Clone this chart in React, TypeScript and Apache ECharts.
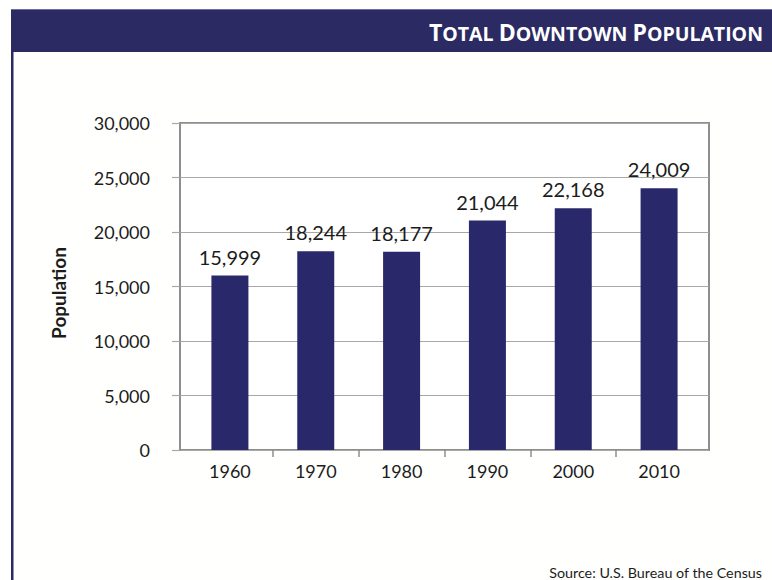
import React, { useEffect, useRef } from "react";
import * as echarts from "echarts";

const years = ["1960", "1970", "1980", "1990", "2000", "2010"];
const population = [15999, 18244, 18177, 21044, 22168, 24009];
const yMin = 0;
const yMax = 30000;
const yStep = 5000;
const boundaryTicks = [1, 2, 3, 4, 5];

const FONT = "Lato";
const NAVY = "#2b2a63";
const BAR = "#28286a";
const TEXT = "#1c1c1c";
const GRID_GRAY = "#a8a8a8";
const FRAME_GRAY = "#8e8e8e";

export default function App() {
  const ref = useRef<HTMLDivElement>(null);
  useEffect(() => {
    if (!ref.current) return;
    const chart = echarts.init(ref.current, null, { renderer: "svg" });
    chart.setOption({
      animation: false,
      backgroundColor: "#fffffd",
      textStyle: { fontFamily: FONT },
      grid: [
        {
          left: 180,
          top: 123,
          width: 529,
          height: 327,
          show: true,
          backgroundColor: "#ffffff",
          borderColor: FRAME_GRAY,
          borderWidth: 2,
        },
        { left: 187, top: 123, width: 515, height: 327 },
      ],
      xAxis: [
        { gridIndex: 0, type: "value", min: 0, max: 1, show: false },
        {
          gridIndex: 1,
          type: "category",
          data: years,
          position: "bottom",
          axisLine: { show: false },
          axisTick: { show: false },
          axisLabel: { fontSize: 18, color: TEXT, margin: 12, fontFamily: FONT },
        },
        {
          gridIndex: 1,
          type: "value",
          min: 0,
          max: 6,
          interval: 1,
          position: "bottom",
          axisLine: { show: false },
          axisLabel: { show: false },
          splitLine: { show: false },
          axisTick: {
            show: true,
            length: 7,
            customValues: boundaryTicks,
            lineStyle: { color: FRAME_GRAY, width: 1.5 },
          },
        },
      ],
      yAxis: [
        {
          gridIndex: 0,
          type: "value",
          min: yMin,
          max: yMax,
          interval: yStep,
          axisLine: { show: true, lineStyle: { color: FRAME_GRAY, width: 2 } },
          axisTick: { show: true, length: 8, lineStyle: { color: GRID_GRAY, width: 1.2 } },
          splitLine: { show: true, lineStyle: { color: GRID_GRAY, width: 1.2 } },
          axisLabel: {
            fontSize: 18,
            color: TEXT,
            margin: 30,
            padding: [8, 0, 0, 0],
            fontFamily: FONT,
            formatter: (v: number) => v.toLocaleString("en-US"),
          },
        },
        { gridIndex: 1, type: "value", min: yMin, max: yMax, interval: yStep, show: false },
      ],
      series: [
        {
          type: "bar",
          xAxisIndex: 1,
          yAxisIndex: 1,
          data: population,
          barWidth: 37,
          itemStyle: { color: BAR },
          label: {
            show: true,
            position: "top",
            distance: 9,
            fontSize: 20,
            color: TEXT,
            fontFamily: FONT,
            formatter: (p: any) => Number(p.value).toLocaleString("en-US"),
          },
        },
      ],
      graphic: [
        {
          type: "rect",
          shape: { x: 11, y: 9, width: 772 - 11, height: 43 },
          style: { fill: NAVY },
          z: 10,
        },
        {
          type: "line",
          shape: { x1: 11, y1: 9.5, x2: 772, y2: 9.5 },
          style: { stroke: "#6d6aa6", lineWidth: 1 },
          z: 11,
        },
        {
          type: "rect",
          shape: { x: 11, y: 9, width: 2.5, height: 580 },
          style: { fill: NAVY },
          z: 10,
        },
        {
          type: "text",
          x: 763,
          y: 31,
          z: 12,
          style: {
            text: "{b|T}{s|OTAL }{b|D}{s|OWNTOWN }{b|P}{s|OPULATION}",
            align: "right",
            verticalAlign: "middle",
            rich: {
              b: { fontSize: 23, fontWeight: "bold", fill: "#ffffff", fontFamily: "Open Sans", verticalAlign: "bottom", lineHeight: 24 },
              s: { fontSize: 19.5, fontWeight: "bold", fill: "#ffffff", fontFamily: "Open Sans", verticalAlign: "bottom", lineHeight: 24 },
            },
          },
        },
        {
          type: "text",
          x: 58,
          y: 293,
          rotation: Math.PI / 2,
          style: {
            text: "Population",
            fontSize: 19,
            fontWeight: "bold",
            fill: TEXT,
            fontFamily: FONT,
            align: "center",
            verticalAlign: "middle",
          },
        },
        {
          type: "text",
          x: 762,
          y: 572,
          style: {
            text: "Source: U.S. Bureau of the Census",
            fontSize: 14.3,
            fill: TEXT,
            fontFamily: FONT,
            align: "right",
            verticalAlign: "middle",
          },
        },
      ],
    });
    return () => chart.dispose();
  }, []);
  return (
    <div
      ref={ref}
      style={{ position: "fixed", left: 0, top: 0, width: 772, height: 580 }}
    />
  );
}
